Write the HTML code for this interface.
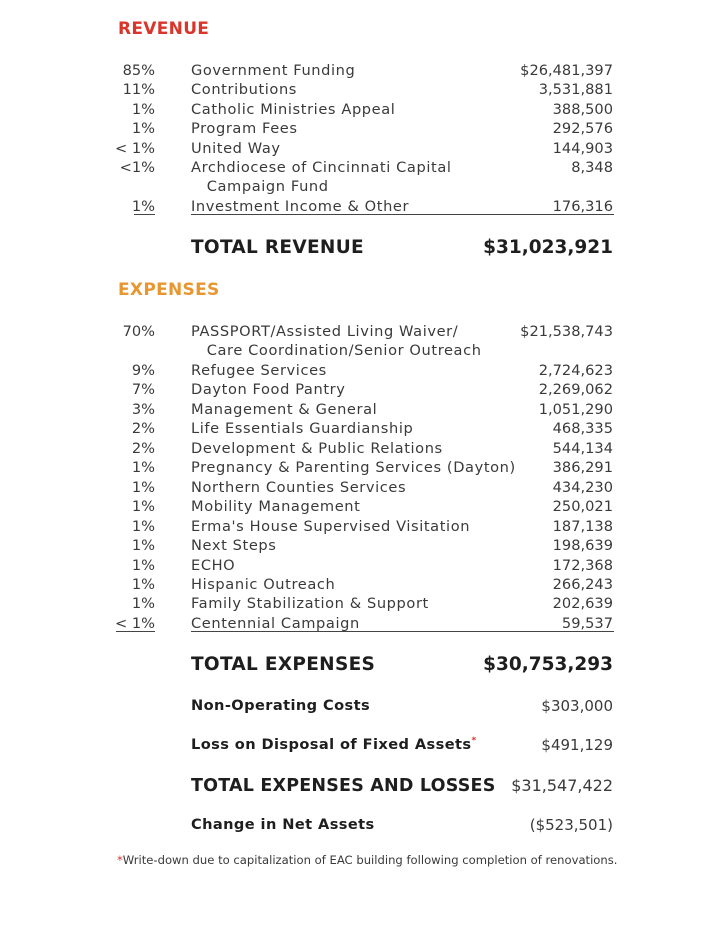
<!DOCTYPE html>
<html><head><meta charset="utf-8">
<style>
html,body{margin:0;padding:0;background:#fff;}
#page{position:relative;width:723px;height:946px;overflow:hidden;background:#fff;font-family:"DejaVu Sans","Liberation Sans",sans-serif;color:#3a3a3a;}
.r{position:absolute;height:20px;line-height:20px;font-size:14.6px;white-space:nowrap;}
.pct{right:568px;text-align:right;}
.lab{left:191px;letter-spacing:0.6px;}
.val{right:110px;text-align:right;}
.h{position:absolute;left:118px;font-weight:bold;font-size:17px;letter-spacing:0.3px;}
.b{font-weight:bold;color:#1e1e1e;}
.ul{position:absolute;height:1px;background:#444;}
sup{line-height:0;vertical-align:6px;}
</style></head>
<body>
<div id="page">
  <div class="h" style="top:19px;color:#d9352b">REVENUE</div>
  <div class="h" style="top:280px;color:#e8962f">EXPENSES</div>
</div>
<script>
const revPct=["85%","11%","1%","1%","< 1%","<1%","","1%"];
const revLabels=["Government Funding","Contributions","Catholic Ministries Appeal","Program Fees","United Way","Archdiocese of Cincinnati Capital","   Campaign Fund","Investment Income & Other"];
const revValues=["$26,481,397","3,531,881","388,500","292,576","144,903","8,348","","176,316"];
const expPct=["70%","","9%","7%","3%","2%","2%","1%","1%","1%","1%","1%","1%","1%","1%","< 1%"];
const expLabels=["PASSPORT/Assisted Living Waiver/","   Care Coordination/Senior Outreach","Refugee Services","Dayton Food Pantry","Management & General","Life Essentials Guardianship","Development & Public Relations","Pregnancy & Parenting Services (Dayton)","Northern Counties Services","Mobility Management","Erma's House Supervised Visitation","Next Steps","ECHO","Hispanic Outreach","Family Stabilization & Support","Centennial Campaign"];
const expValues=["$21,538,743","","2,724,623","2,269,062","1,051,290","468,335","544,134","386,291","434,230","250,021","187,138","198,639","172,368","266,243","202,639","59,537"];
const summaryLabels=["TOTAL REVENUE","TOTAL EXPENSES","Non-Operating Costs","Loss on Disposal of Fixed Assets","TOTAL EXPENSES AND LOSSES","Change in Net Assets"];
const summaryValues=["$31,023,921","$30,753,293","$303,000","$491,129","$31,547,422","($523,501)"];

const page=document.getElementById('page');
function cell(cls,text,top,style){
  const d=document.createElement('div');
  d.className='r '+cls;
  d.style.top=top+'px';
  if(style) d.style.cssText+=style;
  d.textContent=text.replace(/^ +/,m=>'\u00a0'.repeat(m.length));
  page.appendChild(d);
  return d;
}
function table(pcts,labels,vals,y0,step,prefix){
  labels.forEach((l,i)=>{
    const top=Math.round(y0+i*step)-9;
    if(pcts[i]){const p=cell('pct',pcts[i],top);
      
      }
    const a=cell('lab',l,top);
    
    
    if(vals[i]){const v=cell('val',vals[i],top);
      
      }
  });
}
table(revPct,revLabels,revValues,70,19.4,'revenue');
table(expPct,expLabels,expValues,331,19.46,'expense');

function rule(x,w,y){const u=document.createElement('div');u.className='ul';
  u.style.left=x+'px';u.style.width=w+'px';u.style.top=y+'px';
  
  
  page.appendChild(u);}
rule(134,21,214);rule(191,423,214);
rule(116,39,631);rule(191,423,631);

const sumY=[248,665,706,745,786,825];
const sumSize=[18.5,18.5,14.6,14.6,17.5,14.6];
const sumSpacing=[0.3,0.3,0.4,0.4,0.2,0.4];
const sumValSize=[18.5,18.5,15,15,16,15];
const sumValBold=[true,true,false,false,false,false];
summaryLabels.forEach((l,i)=>{
  const a=cell('lab b',l,sumY[i]-10,'font-size:'+sumSize[i]+'px;letter-spacing:'+sumSpacing[i]+'px;');
  
  
  if(i===3){const s=document.createElement('sup');s.textContent='*';s.style.cssText='color:#d9352b;font-size:9px;';a.appendChild(s);}
  const v=cell('val'+(sumValBold[i]?' b':''),summaryValues[i],sumY[i]-10,'font-size:'+sumValSize[i]+'px;');
  
  
});
const fn=cell('lab','',850,'left:117px;font-size:11.6px;letter-spacing:0px;');
fn.innerHTML='<span style="color:#d9352b">*</span>Write-down due to capitalization of EAC building following completion of renovations.';


</script>
</body></html>
